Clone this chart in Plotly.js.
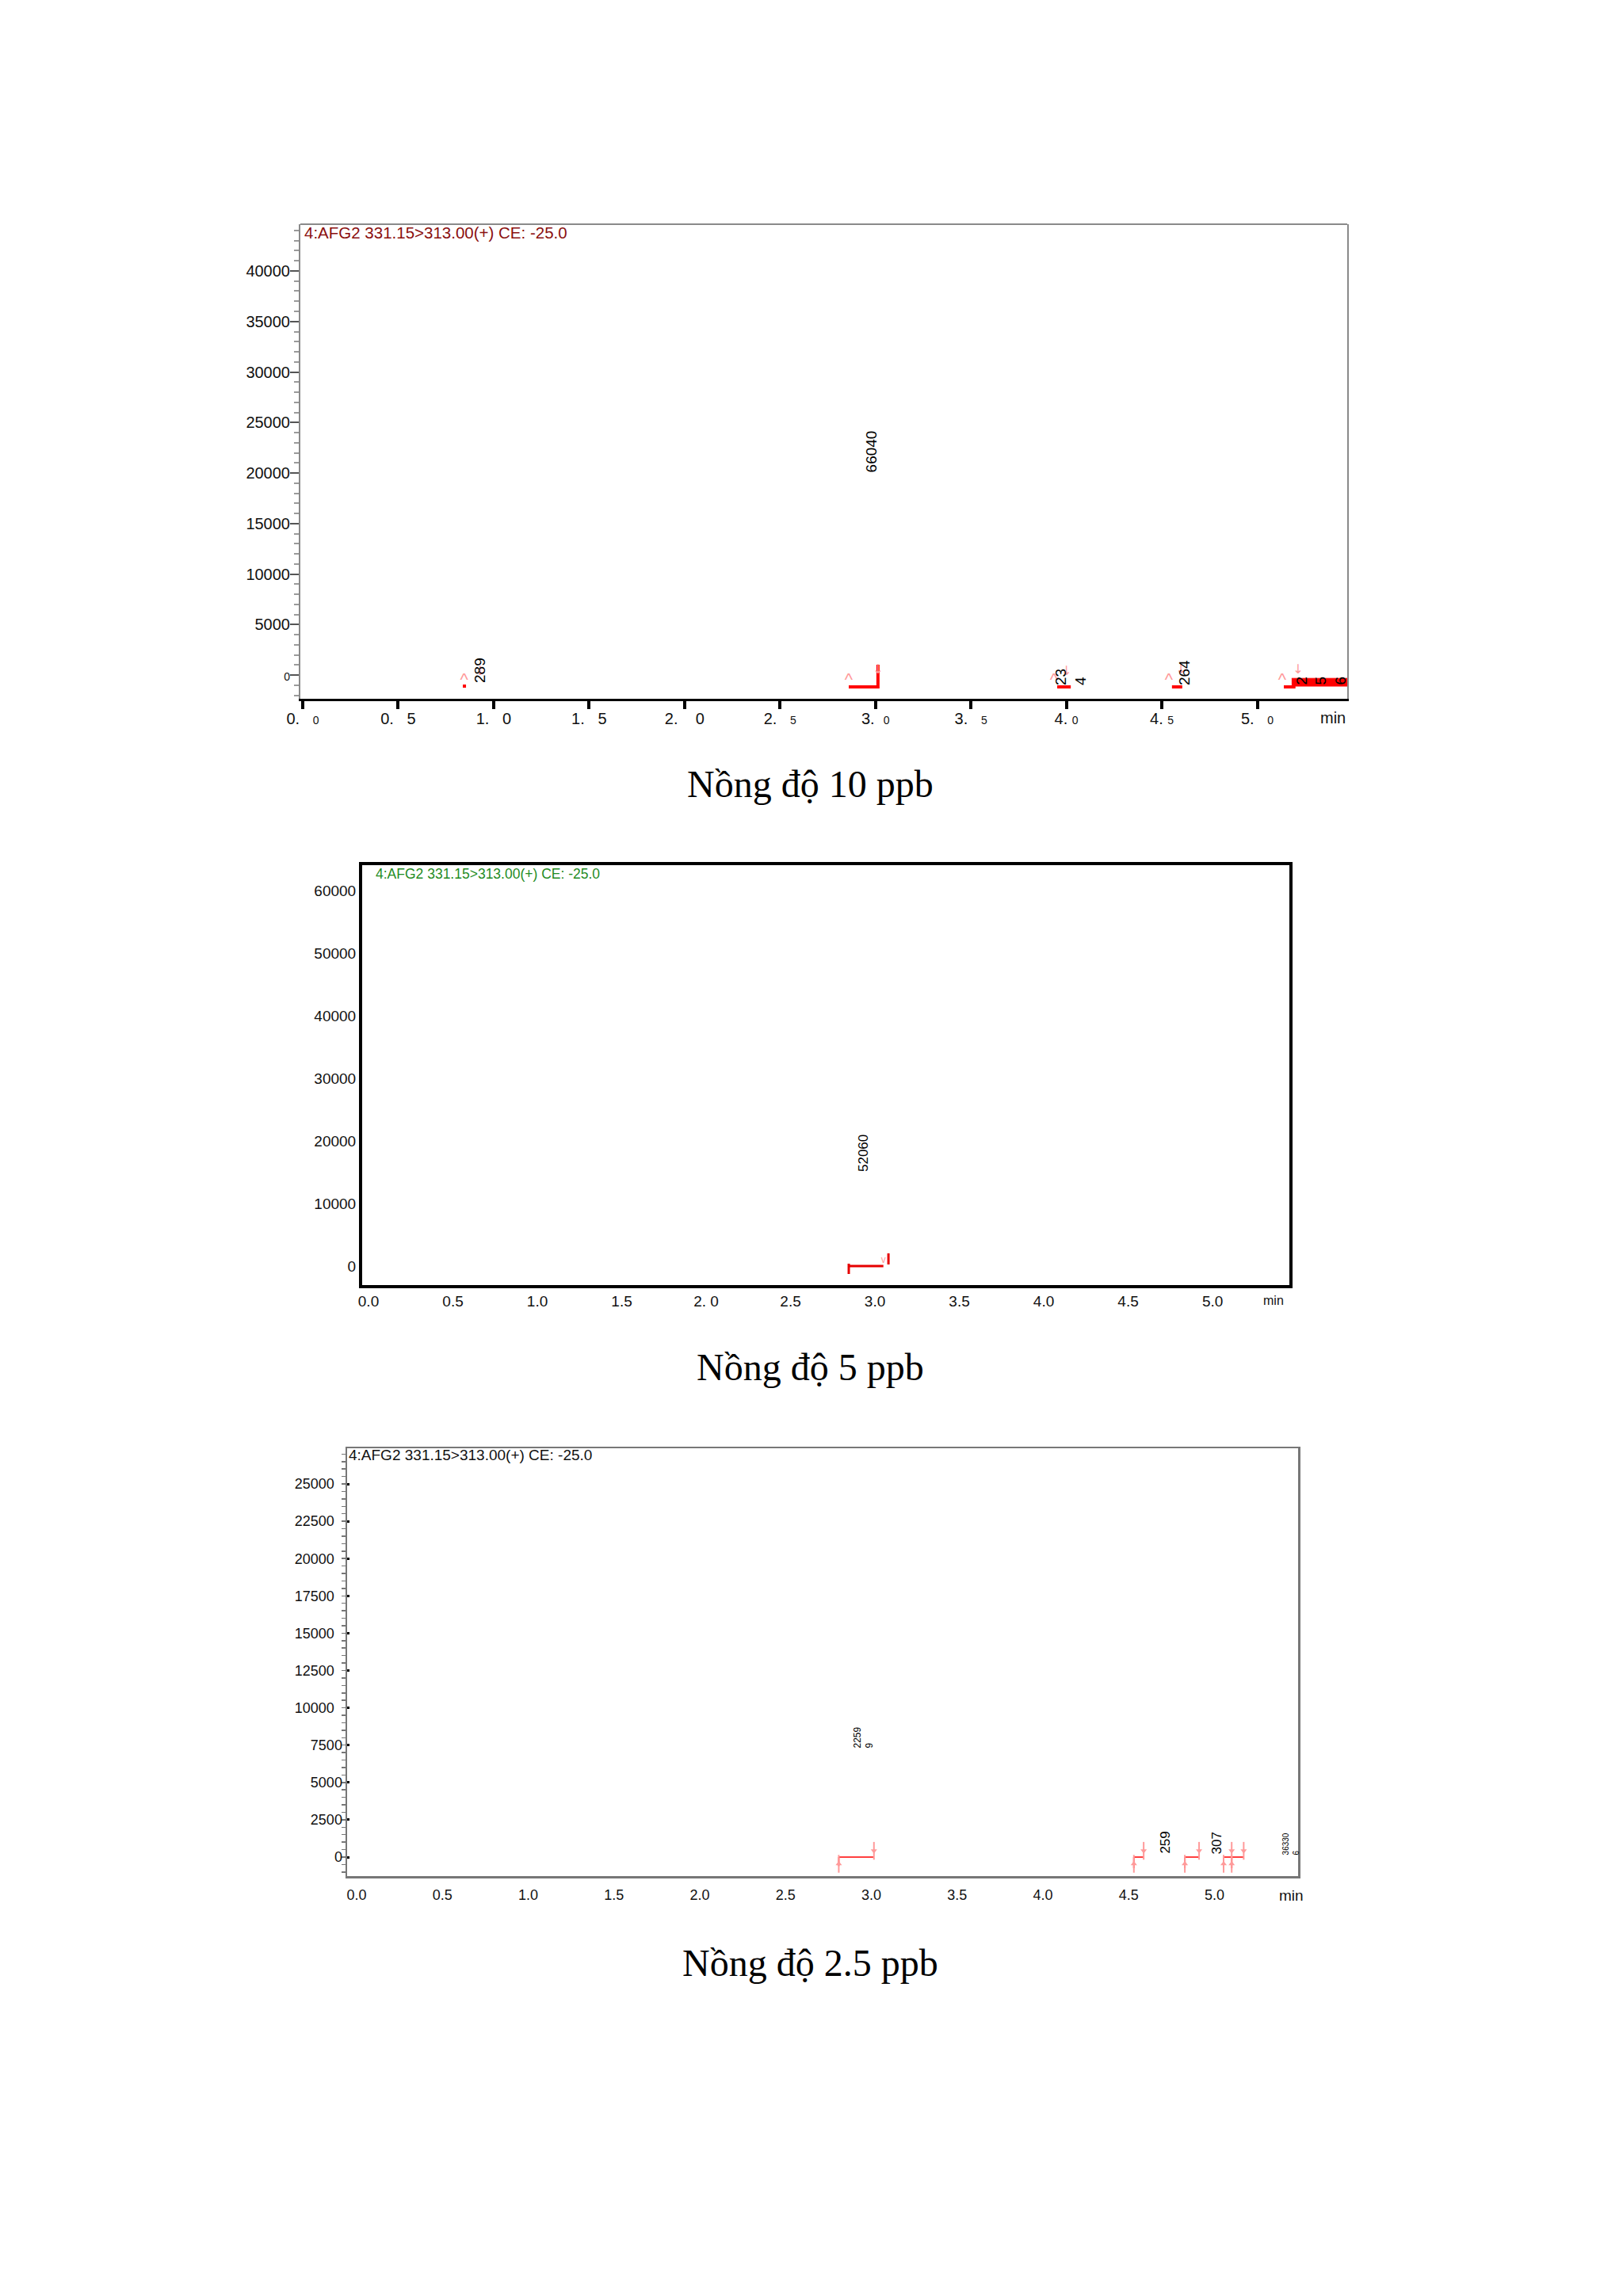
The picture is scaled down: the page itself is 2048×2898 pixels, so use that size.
<!DOCTYPE html>
<html><head><meta charset="utf-8">
<script src="https://cdn.plot.ly/plotly-3.0.1.min.js"></script>
<style>html,body{margin:0;padding:0;background:#fff}</style>
</head><body><div id="chart" style="width:2048px;height:2898px"></div>
<script>
// ================= DATA =================
// ---- Panel 1 : 10 ppb ----
const p1TickVals = [0, 0.5, 1.0, 1.5, 2.0, 2.5, 3.0, 3.5, 4.0, 4.5, 5.0];
const p1TickText = [
  "0.\u00a0\u00a0\u00a0<span style='font-size:14px'>0</span>", "0.\u00a0\u00a0\u00a05", "1.\u00a0\u00a0\u00a00",
  "1.\u00a0\u00a0\u00a05", "2.\u00a0\u00a0\u00a0\u00a00", "2.\u00a0\u00a0\u00a0<span style='font-size:14px'>5</span>",
  "3.\u00a0\u00a0<span style='font-size:14px'>0</span>", "3.\u00a0\u00a0\u00a0<span style='font-size:14px'>5</span>",
  "4.\u00a0<span style='font-size:14px'>0</span>", "4.\u00a0<span style='font-size:14px'>5</span>",
  "5.\u00a0\u00a0\u00a0<span style='font-size:14px'>0</span>"];
const p1YTickVals = [0, 5000, 10000, 15000, 20000, 25000, 30000, 35000, 40000];
const p1YTickText = ["<span style='font-size:14px'>0</span>", "5000", "10000", "15000", "20000", "25000", "30000", "35000", "40000"];
const p1LabelRT = [0.93, 2.98, 4.02, 4.616, 5.33];
const p1LabelText = ["289", "66040", "23<br>4", "264", "2<br>5<br>6"];
const p1LabelY = [-860, 20000, -1100, -1100, -1100];
const p1BaseX = [2.86, 3.013, 3.013, null, 3.952, 4.023, null, 4.553, 4.607, null, 5.139, 5.2];
const p1BaseY = [-1176, -1176, 1020, null, -1176, -1176, null, -1176, -1176, null, -1176, -1176];
const p1DotX = [0.847];
const p1DotY = [-1100];
const p1FillX = [5.18, 5.475, 5.475, 5.18];
const p1FillY = [-330, -330, -1100, -1100];
const p1StartX = [0.845, 2.86, 3.935, 4.537, 5.13];
const p1StartY = [-550, -550, -550, -550, -550];
const p1EndX = [0.93, 3.013, 4.0, 4.6, 5.213];
const p1EndY = [350, 450, 350, 450, 450];

// ---- Panel 2 : 5 ppb ----
const p2TickVals = [0, 0.5, 1.0, 1.5, 2.0, 2.5, 3.0, 3.5, 4.0, 4.5, 5.0];
const p2TickText = ["0.0", "0.5", "1.0", "1.5", "2.\u00a00", "2.5", "3.0", "3.5", "4.0", "4.5", "5.0"];
const p2YTickVals = [0, 10000, 20000, 30000, 40000, 50000, 60000];
const p2YTickText = ["0", "10000", "20000", "30000", "40000", "50000", "60000"];
const p2LabelRT = [2.935];
const p2LabelText = ["52060"];
const p2LabelY = [14900];
const p2BaseX = [2.845, 2.845, null, 2.845, 3.05, null, 3.08, 3.08];
const p2BaseY = [380, -1270, null, 0, 0, null, 250, 2030];
const p2EndX = [3.05];
const p2EndY = [900];

// ---- Panel 3 : 2.5 ppb ----
const p3TickVals = [0, 0.5, 1.0, 1.5, 2.0, 2.5, 3.0, 3.5, 4.0, 4.5, 5.0];
const p3TickText = ["0.0", "0.5", "1.0", "1.5", "2.0", "2.5", "3.0", "3.5", "4.0", "4.5", "5.0"];
const p3YTickVals = [0, 2500, 5000, 7500, 10000, 12500, 15000, 17500, 20000, 22500, 25000];
const p3YTickText = ["0", "2500", "5000", "7500", "10000\u00a0\u00a0", "12500\u00a0\u00a0", "15000\u00a0\u00a0",
  "17500\u00a0\u00a0", "20000\u00a0\u00a0", "22500\u00a0\u00a0", "25000\u00a0\u00a0"];
const p3LabelRT = [2.956, 4.714, 5.018, 5.443];
const p3LabelText = ["2259<br>9", "259", "307", "36330<br>6"];
const p3LabelY = [7220, 160, 160, 110];
const p3LabelSize = [12, 17, 17, 10];
const p3BaseX = [2.81, 2.81, null, 2.81, 3.015, null, 4.53, 4.53, null, 4.53, 4.587, null,
  4.827, 4.827, null, 4.827, 4.91, null, 5.053, 5.053, null, 5.1, 5.1, null, 5.053, 5.17];
const p3BaseY = [0, -600, null, 0, 0, null, 0, -740, null, 0, 0, null,
  0, -740, null, 0, 0, null, 0, -740, null, 0, -740, null, 0, 0];
const p3UpX = [2.81, 4.53, 4.827, 5.053, 5.1];
const p3UpY = [-450, -450, -450, -450, -450];
const p3DownX = [3.015, 4.587, 4.91, 5.1, 5.17];
const p3DownY = [420, 420, 420, 420, 420];

// ================= FIGURE =================
const RED = '#ff0000', PINK = '#ff9a9a';
const base = {hoverinfo: 'skip', showlegend: false};
const traces = [
  // panel 1
  Object.assign({type: 'scatter', mode: 'lines', x: p1FillX, y: p1FillY, fill: 'toself', fillcolor: RED,
    line: {color: RED, width: 1}, xaxis: 'x', yaxis: 'y'}, base),
  Object.assign({type: 'scatter', mode: 'lines', x: p1BaseX, y: p1BaseY, line: {color: RED, width: 4},
    connectgaps: false, xaxis: 'x', yaxis: 'y'}, base),
  Object.assign({type: 'scatter', mode: 'markers', x: p1DotX, y: p1DotY,
    marker: {color: RED, size: 4, symbol: 'square'}, xaxis: 'x', yaxis: 'y'}, base),
  Object.assign({type: 'scatter', mode: 'text', x: p1StartX, y: p1StartY, text: p1StartX.map(() => '^'),
    textfont: {color: PINK, size: 22, family: 'Liberation Sans'}, xaxis: 'x', yaxis: 'y'}, base),
  Object.assign({type: 'scatter', mode: 'text', x: p1EndX, y: p1EndY, text: p1EndX.map(() => '↓'),
    textfont: {color: PINK, size: 16, family: 'DejaVu Sans'}, xaxis: 'x', yaxis: 'y'}, base),
  // panel 2
  Object.assign({type: 'scatter', mode: 'lines', x: p2BaseX, y: p2BaseY, line: {color: '#e60000', width: 3},
    xaxis: 'x2', yaxis: 'y2'}, base),
  Object.assign({type: 'scatter', mode: 'text', x: p2EndX, y: p2EndY, text: ['v'],
    textfont: {color: PINK, size: 12, family: 'Liberation Sans'}, xaxis: 'x2', yaxis: 'y2'}, base),
  // panel 3
  Object.assign({type: 'scatter', mode: 'lines', x: p3BaseX, y: p3BaseY, line: {color: '#ff4040', width: 2},
    xaxis: 'x3', yaxis: 'y3'}, base),
  // up arrows (shaft + head)
  Object.assign({type: 'scatter', mode: 'markers', x: p3UpX, y: p3UpY,
    marker: {symbol: 'line-ns-open', size: 16, color: PINK, line: {color: PINK, width: 2}}, xaxis: 'x3', yaxis: 'y3'}, base),
  Object.assign({type: 'scatter', mode: 'markers', x: p3UpX, y: p3UpY,
    marker: {symbol: 'triangle-up', size: 7, color: PINK, line: {width: 0}}, xaxis: 'x3', yaxis: 'y3'}, base),
  // down arrows (shaft + head)
  Object.assign({type: 'scatter', mode: 'markers', x: p3DownX, y: p3DownY,
    marker: {symbol: 'line-ns-open', size: 16, color: PINK, line: {color: PINK, width: 2}}, xaxis: 'x3', yaxis: 'y3'}, base),
  Object.assign({type: 'scatter', mode: 'markers', x: p3DownX, y: p3DownY,
    marker: {symbol: 'triangle-down', size: 7, color: PINK, line: {width: 0}}, xaxis: 'x3', yaxis: 'y3'}, base)
];

const SANS = 'Liberation Sans, Arial, sans-serif';
const SERIF = 'Liberation Serif, Times New Roman, serif';
const annotations = [];
p1LabelRT.forEach((rt, i) => annotations.push({xref: 'x', yref: 'y', x: rt, y: p1LabelY[i], text: p1LabelText[i],
  textangle: -90, showarrow: false, xanchor: 'center', yanchor: 'bottom', align: 'left',
  font: {family: SANS, size: 19, color: '#000'}, borderpad: 0}));
p2LabelRT.forEach((rt, i) => annotations.push({xref: 'x2', yref: 'y2', x: rt, y: p2LabelY[i], text: p2LabelText[i],
  textangle: -90, showarrow: false, xanchor: 'center', yanchor: 'bottom', align: 'left',
  font: {family: SANS, size: 17, color: '#000'}, borderpad: 0}));
p3LabelRT.forEach((rt, i) => annotations.push({xref: 'x3', yref: 'y3', x: rt, y: p3LabelY[i], text: p3LabelText[i],
  textangle: -90, showarrow: false, xanchor: 'center', yanchor: 'bottom', align: 'left',
  font: {family: SANS, size: p3LabelSize[i], color: '#000'}, borderpad: 0}));

// panel titles
annotations.push({xref: 'x domain', yref: 'y domain', x: 0.002, y: 0.983, xanchor: 'left', yanchor: 'middle',
  text: '4:AFG2 331.15>313.00(+) CE: -25.0', showarrow: false, font: {family: SANS, size: 20.5, color: '#8b1010'}});
annotations.push({xref: 'x2 domain', yref: 'y2 domain', x: 0.013, y: 0.98, xanchor: 'left', yanchor: 'middle',
  text: '4:AFG2 331.15>313.00(+) CE: -25.0', showarrow: false, font: {family: SANS, size: 17.5, color: '#1f8c1f'}});
annotations.push({xref: 'x3 domain', yref: 'y3 domain', x: 0.0, y: 0.984, xanchor: 'left', yanchor: 'middle',
  text: '4:AFG2 331.15>313.00(+) CE: -25.0', showarrow: false, font: {family: SANS, size: 19, color: '#111'}});
// "min" axis unit labels
annotations.push({xref: 'x domain', yref: 'paper', x: 1, y: 1 - 906 / 2898, xanchor: 'right', yanchor: 'middle',
  text: 'min', showarrow: false, font: {family: SANS, size: 20, color: '#111'}});
annotations.push({xref: 'x2', yref: 'paper', x: 5.36, y: 1 - 1642 / 2898, xanchor: 'center', yanchor: 'middle',
  text: 'min', showarrow: false, font: {family: SANS, size: 16, color: '#111'}});
annotations.push({xref: 'x3', yref: 'paper', x: 5.45, y: 1 - 2392 / 2898, xanchor: 'center', yanchor: 'middle',
  text: 'min', showarrow: false, font: {family: SANS, size: 19, color: '#111'}});
// captions
const captions = ['Nồng độ 10 ppb', 'Nồng độ 5 ppb', 'Nồng độ 2.5 ppb'];
const captionY = [989, 1725, 2477];
captions.forEach((c, i) => annotations.push({xref: 'paper', yref: 'paper', x: 1022 / 2048, y: 1 - captionY[i] / 2898,
  xanchor: 'center', yanchor: 'middle', text: c, showarrow: false, font: {family: SERIF, size: 48, color: '#000'}}));

const shapes = [
  {type: 'line', xref: 'x domain', yref: 'y domain', x0: 0, x1: 1, y0: 1, y1: 1, line: {color: '#8a8a8a', width: 2}}
];

const layout = {
  width: 2048, height: 2898, margin: {l: 0, r: 0, t: 0, b: 0},
  paper_bgcolor: '#ffffff', plot_bgcolor: 'rgba(0,0,0,0)',
  font: {family: SANS, color: '#111'},
  showlegend: false,
  xaxis: {domain: [379 / 2048, 1700 / 2048], range: [-0.0124, 5.471], anchor: 'y',
    tickmode: 'array', tickvals: p1TickVals, ticktext: p1TickText,
    ticks: 'outside', ticklen: 10, tickwidth: 4, tickcolor: '#000',
    showline: true, linecolor: '#000', linewidth: 3, showgrid: false, zeroline: false,
    tickfont: {size: 20, color: '#111'}, ticklabelstandoff: -5},
  yaxis: {domain: [1 - 882 / 2898, 1 - 283 / 2898], range: [-2353, 44627], anchor: 'x',
    tickmode: 'array', tickvals: p1YTickVals, ticktext: p1YTickText,
    ticks: 'outside', ticklen: 11, tickwidth: 2, tickcolor: '#555',
    minor: {dtick: 1000, tick0: 0, ticks: 'outside', ticklen: 6, tickwidth: 2, tickcolor: '#9a9a9a', showgrid: false},
    showline: true, linecolor: '#8a8a8a', linewidth: 2, mirror: true, showgrid: false, zeroline: false,
    tickfont: {size: 20, color: '#111'}, ticklabelstandoff: -4},
  xaxis2: {domain: [457 / 2048, 1627 / 2048], range: [-0.0376, 5.455], anchor: 'y2',
    tickmode: 'array', tickvals: p2TickVals, ticktext: p2TickText, ticks: '',
    showline: true, linecolor: '#000', linewidth: 4, mirror: true, showgrid: false, zeroline: false,
    tickfont: {size: 19, color: '#111'}, ticklabelstandoff: 0},
  yaxis2: {domain: [1 - 1622 / 2898, 1 - 1092 / 2898], range: [-3038, 64051], anchor: 'x2',
    tickmode: 'array', tickvals: p2YTickVals, ticktext: p2YTickText, ticks: '',
    showline: true, linecolor: '#000', linewidth: 4, mirror: true, showgrid: false, zeroline: false,
    tickfont: {size: 19, color: '#111'}, ticklabelstandoff: 0},
  xaxis3: {domain: [438 / 2048, 1638 / 2048], range: [-0.0554, 5.487], anchor: 'y3',
    tickmode: 'array', tickvals: p3TickVals, ticktext: p3TickText, ticks: '',
    showline: true, linecolor: '#777', linewidth: 2.5, mirror: true, showgrid: false, zeroline: false,
    tickfont: {size: 18, color: '#111'}, ticklabelstandoff: 6},
  yaxis3: {domain: [1 - 2368 / 2898, 1 - 1828 / 2898], range: [-1274, 27389], anchor: 'x3',
    tickmode: 'array', tickvals: p3YTickVals, ticktext: p3YTickText,
    ticks: 'inside', ticklen: 3, tickwidth: 3, tickcolor: '#000',
    minor: {dtick: 500, tick0: 0, ticks: 'outside', ticklen: 5, tickwidth: 1.5, tickcolor: '#777', showgrid: false},
    showline: true, linecolor: '#777', linewidth: 2.5, mirror: true, showgrid: false, zeroline: false,
    tickfont: {size: 18, color: '#111'}, ticklabelstandoff: 0},
  annotations: annotations,
  shapes: shapes
};

Plotly.newPlot('chart', traces, layout, {staticPlot: true, displayModeBar: false});
</script>
</body></html>
